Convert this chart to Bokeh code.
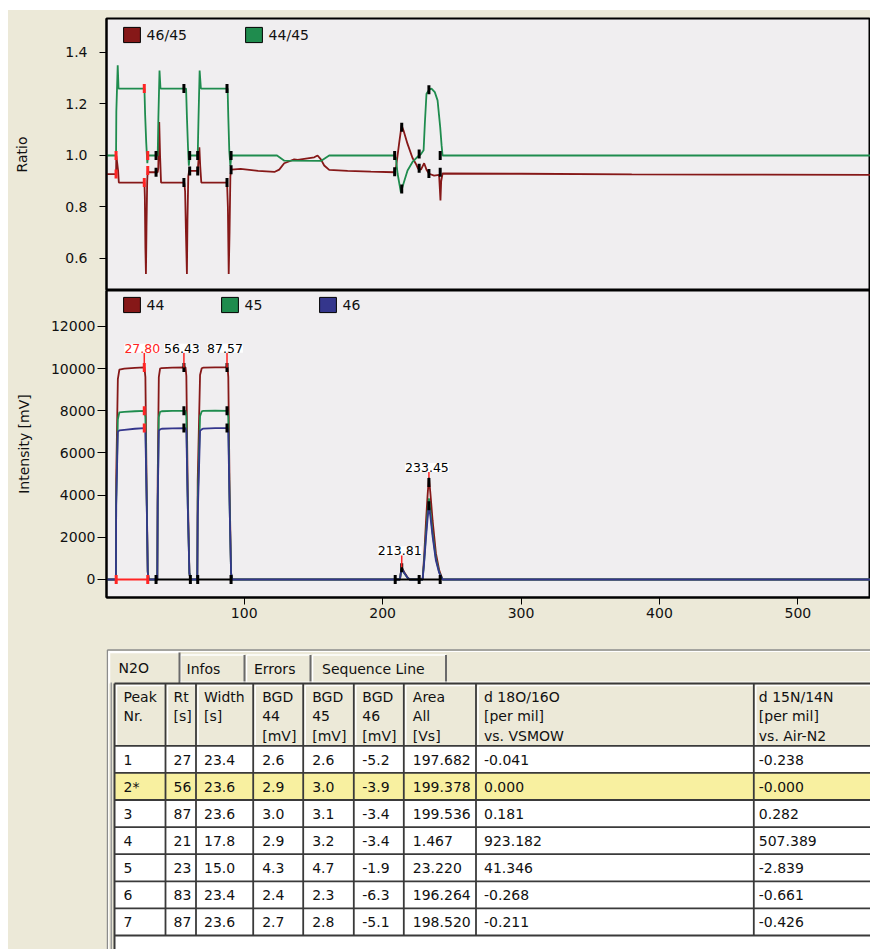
import math
from bokeh.plotting import figure
from bokeh.models import (Range1d, FixedTicker, Legend, LegendItem, Label, LabelSet,
                          ColumnDataSource)
from bokeh.layouts import column
from bokeh.embed import file_html
from bokeh.resources import INLINE
from bokeh.core.properties import value

# ---------------------------------------------------------------- data
ratio_ticks = [0.6, 0.8, 1.0, 1.2, 1.4]
ratio_tick_labels = ["0.6", "0.8", "1.0", "1.2", "1.4"]
intensity_ticks = [0, 2000, 4000, 6000, 8000, 10000, 12000]
intensity_tick_labels = ["0", "2000", "4000", "6000", "8000", "10000", "12000"]
time_ticks = [100, 200, 300, 400, 500]
time_tick_labels = ["100", "200", "300", "400", "500"]

# ratio 46/45
t_4645 = [0.5, 7.4, 7.6, 8.9, 9.4, 27.9, 28.2, 28.6, 29.0, 29.4, 29.9, 30.3, 31.0,
          37.5, 37.9, 38.6, 39.2, 39.9, 56.7, 57.3, 57.9, 58.6, 59.0, 59.6, 60.2,
          66.4, 66.8, 67.6, 68.2, 69.0, 87.6, 88.2, 88.8, 89.4, 90.0, 90.6,
          97.4, 110.0, 121.8, 125.3, 128.9, 136.1, 138.6, 150.6, 153.0, 155.4, 157.8,
          161.4, 174.7, 191.5, 208.4,
          209.6, 212.0, 213.7, 215.1, 218.0, 221.6, 224.0, 225.7, 227.7, 230.0, 231.7,
          233.6, 237.2, 240.8, 241.8, 242.3, 243.3,
          300.0, 380.0, 450.0, 552.5]
r_4645 = [0.928, 0.928, 1.0, 0.94, 0.895, 0.895, 0.84, 0.64, 0.54, 0.72, 0.9, 0.942, 0.935,
          0.935, 0.95, 1.13, 1.0, 0.895, 0.895, 0.86, 0.7, 0.54, 0.75, 0.92, 0.94,
          0.94, 0.97, 1.032, 0.96, 0.895, 0.895, 0.8, 0.54, 0.7, 0.92, 0.945,
          0.948, 0.94, 0.936, 0.945, 0.97, 0.985, 0.983, 0.993, 1.0, 0.985, 0.961,
          0.944, 0.94, 0.937, 0.935,
          0.95, 1.05, 1.117, 1.097, 1.045, 0.99, 0.968, 0.948, 0.945, 0.97, 0.945,
          0.929, 0.922, 0.925, 0.825, 0.9, 0.93,
          0.929, 0.927, 0.926, 0.925]

# ratio 44/45
t_4445 = [0.5, 7.4, 7.6, 8.6, 9.2, 27.9, 28.4, 29.2, 30.0, 30.6,
          37.5, 38.0, 38.8, 39.5, 58.0, 58.6, 59.4, 60.0, 60.6,
          66.4, 67.0, 67.8, 68.7, 88.0, 88.5, 89.2, 90.0, 90.7,
          123.7, 129.0, 155.4, 161.4, 208.4,
          209.6, 210.8, 213.2, 215.6, 218.0, 221.6, 225.2, 227.6, 229.6, 230.5, 231.7,
          233.6, 235.3, 237.7, 239.7, 241.6, 242.6, 243.3, 552.5]
r_4445 = [1.0, 1.0, 1.17, 1.35, 1.26, 1.26, 1.16, 1.05, 0.97, 1.0,
          1.0, 1.15, 1.33, 1.26, 1.26, 1.15, 1.03, 0.96, 1.0,
          1.0, 1.15, 1.33, 1.26, 1.26, 1.15, 1.02, 0.96, 1.0,
          1.0, 0.98, 0.979, 1.0, 1.0,
          0.99, 0.93, 0.857, 0.9, 0.942, 0.975, 0.995, 1.005, 1.02, 1.123, 1.24,
          1.255, 1.26, 1.246, 1.214, 1.11, 1.04, 1.0, 1.0]

# ratio peak markers (start / apex / end)
rm_t = [7.4, 27.8, 30.3, 36.3, 56.43, 60.6, 66.4, 87.57, 90.5, 208.7, 213.81, 226.4, 233.45, 241.6]
rm_4445 = [1.0, 1.26, 1.0, 1.0, 1.26, 1.0, 1.0, 1.26, 1.0, 1.0, 0.87, 1.006, 1.255, 1.0]
rm_4645 = [0.928, 0.895, 0.942, 0.935, 0.895, 0.94, 0.94, 0.895, 0.945, 0.937, 1.11, 0.95, 0.93, 0.935]
rm_first = [True, True, True] + [False] * 11

# intensities (mV)
t_int = [0.5, 7.3,
         7.5, 8.7, 9.8, 13.4, 21.0, 27.9,
         28.6, 29.6, 30.3, 31.0,
         37.2, 37.5, 38.3, 39.2, 40.4, 48.0, 57.6,
         58.2, 59.2, 60.4, 61.1,
         66.1, 66.4, 68.1, 69.3, 70.5, 79.0, 88.0,
         88.5, 89.5, 90.5, 91.2,
         212.5, 213.3, 213.81, 214.5, 215.5, 216.8, 218.0, 219.5,
         228.9, 230.0, 231.3, 232.5, 233.45, 234.5, 236.1, 238.5, 240.9, 243.3,
         552.5]
i44 = [0, 0,
       4750, 9500, 9950, 10000, 10040, 10060,
       9600, 3800, 400, 0,
       0, 4800, 9600, 10000, 10030, 10050, 10060,
       9650, 4200, 300, 0,
       0, 4700, 9700, 10020, 10050, 10060, 10060,
       9600, 4000, 300, 0,
       0, 400, 560, 500, 350, 220, 100, 0,
       0, 1100, 2700, 4000, 4850, 4100, 2800, 1250, 430, 0,
       0]
i45 = [0, 0,
       3600, 7600, 7930, 7950, 7980, 8000,
       7700, 3500, 350, 0,
       0, 3800, 7700, 7950, 7980, 8000, 8000,
       7750, 3600, 300, 0,
       0, 3700, 7750, 7970, 8000, 8010, 8000,
       7700, 3400, 300, 0,
       0, 360, 520, 450, 310, 190, 80, 0,
       0, 870, 2150, 3200, 3850, 3250, 2200, 1000, 340, 0,
       0]
i46 = [0, 0,
       3500, 7000, 7070, 7100, 7150, 7180,
       7000, 3400, 350, 0,
       0, 3600, 7050, 7120, 7150, 7170, 7180,
       7050, 3500, 300, 0,
       0, 3000, 7050, 7120, 7160, 7180, 7180,
       7000, 3300, 300, 0,
       0, 380, 500, 450, 320, 200, 80, 0,
       0, 800, 1950, 2900, 3500, 3000, 2050, 900, 310, 0,
       0]

# peak boundaries on the baseline
base_start = [7.5, 36.3, 66.4, 209.1]
base_end = [30.3, 61.1, 90.5, 241.6]
base_level = [0, 0, 0, 0]
base_first = [True, False, False, False]
bm_t = [7.5, 30.3, 36.3, 61.1, 66.4, 90.5, 209.1, 226.4, 241.6]
bm_v = [0, 0, 0, 0, 0, 0, 0, 0, 0]
bm_first = [True, True] + [False] * 7
# apex markers on the traces
am_t = [27.8, 27.8, 27.8, 56.43, 56.43, 56.43, 87.57, 87.57, 87.57, 213.81, 233.45, 233.45]
am_v = [10060, 8000, 7180, 10060, 8000, 7180, 10060, 8000, 7180, 560, 4600, 3500]
am_first = [True, True, True] + [False] * 9
# retention time labels
peak_rt = [27.80, 56.43, 87.57, 213.81, 233.45]
peak_label_y = [10750, 10750, 10750, 1150, 5100]
peak_top = [10060, 10060, 10060, 580, 4850]
peak_label_first = [True, False, False, False, False]

# table
tab_names = ["N2O", "Infos", "Errors", "Sequence Line"]
col_headers = [["Peak", "Nr."], ["Rt", "[s]"], ["Width", "[s]"],
               ["BGD", "44", "[mV]"], ["BGD", "45", "[mV]"], ["BGD", "46", "[mV]"],
               ["Area", "All", "[Vs]"], ["d 18O/16O", "[per mil]", "vs. VSMOW"],
               ["d 15N/14N", "[per mil]", "vs. Air-N2"]]
peak_nr = ["1", "2*", "3", "4", "5", "6", "7"]
rt_shown = ["27", "56", "87", "21", "23", "83", "87"]
width_s = ["23.4", "23.6", "23.6", "17.8", "15.0", "23.4", "23.6"]
bgd44 = ["2.6", "2.9", "3.0", "2.9", "4.3", "2.4", "2.7"]
bgd45 = ["2.6", "3.0", "3.1", "3.2", "4.7", "2.3", "2.8"]
bgd46 = ["-5.2", "-3.9", "-3.4", "-3.4", "-1.9", "-6.3", "-5.1"]
area_all = ["197.682", "199.378", "199.536", "1.467", "23.220", "196.264", "198.520"]
d18o = ["-0.041", "0.000", "0.181", "923.182", "41.346", "-0.268", "-0.211"]
d15n = ["-0.238", "-0.000", "0.282", "507.389", "-2.839", "-0.661", "-0.426"]
highlight_row = 1

# ---------------------------------------------------------------- style
FONT = "DejaVu Sans"
BEIGE = "#ECE9D8"
PLOT_BG = "#F0EEF0"
DARK_RED = "#861818"
GREEN = "#1F8C4E"
NAVY = "#34368C"
PEAK_RED = "#FF2424"
TXT = "#111111"


def style_frame(p):
    p.grid.grid_line_color = None
    p.outline_line_color = "black"
    p.outline_line_width = 2


def style_axis(ax, tick_out, standoff):
    ax.major_label_text_font = FONT
    ax.major_label_text_font_size = "14px"
    ax.major_label_text_color = TXT
    ax.major_tick_out = tick_out
    ax.major_tick_in = 0
    ax.minor_tick_out = 0
    ax.minor_tick_in = 0
    ax.major_tick_line_color = "black"
    ax.major_label_standoff = standoff
    ax.axis_line_color = "black"
    ax.axis_line_width = 2
    ax.axis_label_text_font = FONT
    ax.axis_label_text_font_size = "14px"
    ax.axis_label_text_font_style = "normal"
    ax.axis_label_text_color = TXT


def mark_colors(flags):
    return [PEAK_RED if f else "black" for f in flags]


def swatch(p, color, y):
    # legend proxy placed left of the visible time range
    x0 = p.x_range.start
    return p.quad(left=[x0 - 30], right=[x0 - 20], top=[y], bottom=[y],
                  fill_color=color, line_color="black")


x_range = Range1d(0.5, 552.5)

# ---------------------------------------------------------------- ratio panel
p1 = figure(width=862, height=280, x_range=x_range, y_range=Range1d(0.4757, 1.532),
            output_backend="svg", toolbar_location=None, x_axis_location=None,
            min_border_left=98, min_border_right=0, min_border_top=8, min_border_bottom=0,
            background_fill_color=PLOT_BG, border_fill_color=BEIGE)
style_frame(p1)
ay = p1.yaxis[0]
ay.ticker = FixedTicker(ticks=ratio_ticks)
ay.major_label_overrides = dict(zip(ratio_ticks, ratio_tick_labels))
style_axis(ay, 7, 12)
ay.axis_label = "Ratio"
ay.axis_label_standoff = 32

p1.line(t_4645, r_4645, line_color=DARK_RED, line_width=1.8)
p1.line(t_4445, r_4445, line_color=GREEN, line_width=1.8)
p1.scatter(rm_t, rm_4445, marker="dash", angle=math.pi / 2, size=9, line_width=3,
           line_color=mark_colors(rm_first))
p1.scatter(rm_t, rm_4645, marker="dash", angle=math.pi / 2, size=9, line_width=3,
           line_color=mark_colors(rm_first))

sq_a = swatch(p1, DARK_RED, 1.0)
sq_b = swatch(p1, GREEN, 1.0)
leg1 = Legend(items=[LegendItem(label="46/45", renderers=[sq_a]),
                     LegendItem(label="44/45", renderers=[sq_b])],
              orientation="horizontal", location=(14.6, 246),
              glyph_width=21, glyph_height=19, label_height=19, label_standoff=5,
              label_width=96, spacing=0, padding=0, margin=0,
              border_line_color=None, background_fill_alpha=0,
              label_text_font=FONT, label_text_font_size="14px", label_text_color=TXT)
p1.add_layout(leg1)

# ---------------------------------------------------------------- intensity panel
p2 = figure(width=862, height=355, x_range=x_range, y_range=Range1d(-854, 13707),
            output_backend="svg", toolbar_location=None,
            min_border_left=98, min_border_right=0, min_border_top=0, min_border_bottom=48,
            background_fill_color=PLOT_BG, border_fill_color=BEIGE)
style_frame(p2)
ay2 = p2.yaxis[0]
ay2.ticker = FixedTicker(ticks=intensity_ticks)
ay2.major_label_overrides = dict(zip(intensity_ticks, intensity_tick_labels))
style_axis(ay2, 9, 2)
ay2.axis_label = "Intensity [mV]"
ay2.axis_label_standoff = 16
ax2 = p2.xaxis[0]
ax2.ticker = FixedTicker(ticks=time_ticks)
ax2.major_label_overrides = dict(zip(time_ticks, time_tick_labels))
style_axis(ax2, 7, 3)
p2.add_layout(Label(x=619, y=-36, x_units="screen", y_units="screen", text="Time [s]",
                    text_font=FONT, text_font_size="14px", text_color=TXT,
                    text_align="center", text_baseline="middle"))

p2.line(t_int, i44, line_color=DARK_RED, line_width=1.8)
p2.line(t_int, i45, line_color=GREEN, line_width=1.8)
p2.line(t_int, i46, line_color=NAVY, line_width=1.8)
p2.segment(x0=base_start, y0=base_level, x1=base_end, y1=base_level,
           line_color=mark_colors(base_first), line_width=2)
p2.scatter(bm_t, bm_v, marker="dash", angle=math.pi / 2, size=9, line_width=3,
           line_color=mark_colors(bm_first))
p2.scatter(am_t, am_v, marker="dash", angle=math.pi / 2, size=9, line_width=3,
           line_color=mark_colors(am_first))
p2.segment(x0=peak_rt, y0=peak_label_y, x1=peak_rt, y1=peak_top,
           line_color=PEAK_RED, line_width=1.5)
lab_src = ColumnDataSource(dict(
    x=peak_rt, y=peak_label_y,
    text=["%.2f" % v for v in peak_rt],
    color=mark_colors(peak_label_first)))
p2.add_layout(LabelSet(x="x", y="y", text="text", source=lab_src, x_offset=-2,
                       text_color="color", text_font=value(FONT), text_font_size="12.5px",
                       text_align="center", text_baseline="bottom",
                       background_fill_color="white", border_line_color=None))

sq44 = swatch(p2, DARK_RED, 0)
sq45 = swatch(p2, GREEN, 0)
sq46 = swatch(p2, NAVY, 0)
leg2 = Legend(items=[LegendItem(label="44", renderers=[sq44]),
                     LegendItem(label="45", renderers=[sq45]),
                     LegendItem(label="46", renderers=[sq46])],
              orientation="horizontal", location=(14.6, 283),
              glyph_width=21, glyph_height=19, label_height=19, label_standoff=5,
              label_width=72, spacing=0, padding=0, margin=0,
              border_line_color=None, background_fill_alpha=0,
              label_text_font=FONT, label_text_font_size="14px", label_text_color=TXT)
p2.add_layout(leg2)

# ---------------------------------------------------------------- results table
# frame aligned with the panels above: page x 106..870, page y 645..949
p3 = figure(width=862, height=304, x_range=Range1d(106, 870), y_range=Range1d(949, 645),
            output_backend="svg", toolbar_location=None,
            x_axis_location=None, y_axis_location=None,
            min_border_left=98, min_border_right=0, min_border_top=0, min_border_bottom=0,
            background_fill_color=BEIGE, border_fill_color=BEIGE, outline_line_color=None)
p3.grid.grid_line_color = None

RIGHT = 880
col_edges = [114, 165, 195.5, 252.7, 302.7, 353.3, 403.3, 475.5, 753.3, RIGHT]
col_pad = [9, 8, 8, 9, 9, 8.5, 9, 8, 5]
head_top, head_bot, row_h = 683, 745.3, 27.1
n_rows = len(peak_nr)
rows_bot = head_bot + n_rows * row_h
DARK = "#3A3A3A"

# group frame
p3.segment(x0=[106.8], y0=[649.5], x1=[RIGHT], y1=[649.5], line_color="#8C8C8C", line_width=1.5)
p3.segment(x0=[106.8], y0=[649.5], x1=[106.8], y1=[960], line_color="#8C8C8C", line_width=1.5)
p3.segment(x0=[108], y0=[651], x1=[RIGHT], y1=[651], line_color="white", line_width=1)
p3.segment(x0=[108.2], y0=[651], x1=[108.2], y1=[960], line_color="white", line_width=1)

# tabs
tab_left = [109, 180, 246, 312]
tab_right = [179, 244, 310, 445.5]
tab_top = [652, 654.5, 654.5, 654.5]
tab_bottom = [683, 682, 682, 682]
tab_text_x = [118, 186, 253.5, 321.5]
tab_text_y = [667, 668.5, 668.5, 668.5]
p3.quad(left=tab_left, right=tab_right, top=tab_top, bottom=tab_bottom,
        fill_color=BEIGE, line_color=None)
p3.segment(x0=tab_left, y0=tab_top, x1=tab_right, y1=tab_top, line_color="white", line_width=1.5)
p3.segment(x0=tab_left, y0=tab_top, x1=tab_left, y1=tab_bottom, line_color="white", line_width=1.5)
p3.segment(x0=tab_right, y0=tab_top, x1=tab_right, y1=tab_bottom, line_color="#6A6A6A", line_width=2)
p3.segment(x0=[180], y0=[681.5], x1=[RIGHT], y1=[681.5], line_color="white", line_width=1)
p3.text(tab_text_x, tab_text_y, text=tab_names, text_font=value(FONT), text_font_size="14px",
        text_color=TXT, text_baseline="middle", text_align="left")

# inner border of the page
p3.segment(x0=[110.8], y0=[682], x1=[110.8], y1=[960], line_color="#9A9A9A", line_width=1.5)

# grid background
p3.quad(left=[col_edges[0]], right=[RIGHT], top=[head_top], bottom=[960],
        fill_color="white", line_color=None)
p3.quad(left=col_edges[:-1], right=col_edges[1:], top=[head_top] * 9, bottom=[head_bot] * 9,
        fill_color=BEIGE, line_color=None)
p3.segment(x0=[e + 2 for e in col_edges[:-1]], y0=[head_top + 2] * 9,
           x1=[e - 1 for e in col_edges[1:]], y1=[head_top + 2] * 9,
           line_color="white", line_width=1.5)
p3.segment(x0=[e + 2 for e in col_edges[:-1]], y0=[head_top + 2] * 9,
           x1=[e + 2 for e in col_edges[:-1]], y1=[head_bot - 1] * 9,
           line_color="white", line_width=1.5)
hr_top = head_bot + highlight_row * row_h
p3.quad(left=[col_edges[0]], right=[RIGHT], top=[hr_top], bottom=[hr_top + row_h],
        fill_color="#F8F0A0", line_color=None)

# grid lines
h_y = [head_bot + k * row_h for k in range(n_rows + 1)]
p3.segment(x0=[col_edges[0]] * len(h_y), y0=h_y, x1=[RIGHT] * len(h_y), y1=h_y,
           line_color=DARK, line_width=1.8)
p3.segment(x0=[col_edges[0]], y0=[head_top], x1=[RIGHT], y1=[head_top],
           line_color=DARK, line_width=2)
p3.segment(x0=[col_edges[0]], y0=[head_top], x1=[col_edges[0]], y1=[960],
           line_color=DARK, line_width=2)
v_x = col_edges[1:-1]
p3.segment(x0=v_x, y0=[head_top] * len(v_x), x1=v_x, y1=[rows_bot] * len(v_x),
           line_color=DARK, line_width=1.8)

# header texts
hx, hy, ht = [], [], []
for c, lines in enumerate(col_headers):
    for k, s in enumerate(lines):
        hx.append(col_edges[c] + col_pad[c])
        hy.append(696.7 + k * 19.2)
        ht.append(s)
p3.text(hx, hy, text=ht, text_font=value(FONT), text_font_size="14px", text_color=TXT,
        text_baseline="middle", text_align="left")

# cell texts
columns = [peak_nr, rt_shown, width_s, bgd44, bgd45, bgd46, area_all, d18o, d15n]
cx, cy, ct = [], [], []
for c, vals in enumerate(columns):
    for r, s in enumerate(vals):
        cx.append(col_edges[c] + col_pad[c])
        cy.append(head_bot + (r + 0.5) * row_h + 0.5)
        ct.append(s)
p3.text(cx, cy, text=ct, text_font=value(FONT), text_font_size="14px", text_color=TXT,
        text_baseline="middle", text_align="left")

layout = column(p1, p2, p3, margin=(10, 0, 0, 8), spacing=0,
                styles={"background-color": BEIGE})
open("out.html", "w").write(file_html(layout, INLINE))
